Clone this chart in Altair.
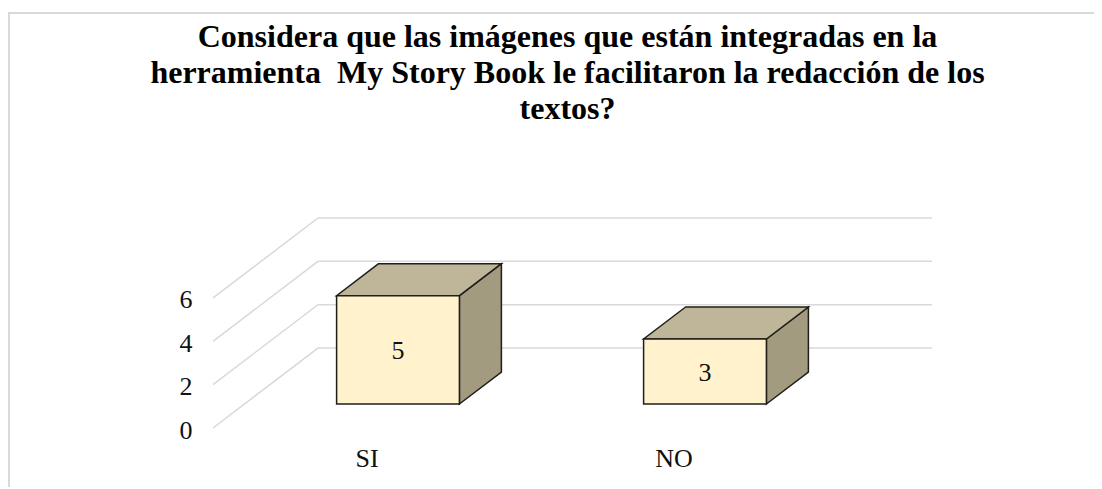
import altair as alt
import pandas as pd

categories = ["SI", "NO"]
values = [5, 3]
y_ticks = [0, 2, 4, 6]
title_lines = [
    "Considera que las imágenes que están integradas en la",
    "herramienta \u00a0My Story Book le facilitaron la redacción de los",
    "textos?",
]

# oblique projection of the 3-D chart: one unit of depth shifts this much on each axis
DEPTH_X = 0.342
DEPTH_Y = 3.69
BAR_W = 0.4
DEPTH_NEAR, DEPTH_FAR = 0.3, 0.7
X_MAX = 2 + DEPTH_X
Y_MAX = 6 + DEPTH_Y

def px(u, d):
    return u + d * DEPTH_X

def py(v, d):
    return v + d * DEPTH_Y

x_scale = alt.Scale(domain=[0, X_MAX], nice=False, zero=False)
y_scale = alt.Scale(domain=[0, Y_MAX], nice=False, zero=False)

grid_rows = []
for t in y_ticks:
    for u, d in [(0, 0), (0, 1), (2, 1)]:
        grid_rows.append({"tick": t, "x": px(u, d), "y": py(t, d)})

front, top, side, labels = [], [], [], []
for i, (c, v) in enumerate(zip(categories, values)):
    l = i + 0.5 - BAR_W / 2
    r = i + 0.5 + BAR_W / 2
    n, f = DEPTH_NEAR, DEPTH_FAR
    front.append({"cat": c, "x": px(l, n), "x2": px(r, n), "y": py(0, n), "y2": py(v, n)})
    top.append({"cat": c, "y": py(v, n), "x": px(l, n), "x2": px(r, n)})
    top.append({"cat": c, "y": py(v, f), "x": px(l, f), "x2": px(r, f)})
    side.append({"cat": c, "x": px(r, n), "y": py(0, n), "y2": py(v, n)})
    side.append({"cat": c, "x": px(r, f), "y": py(0, f), "y2": py(v, f)})
    labels.append({"x": px(i + 0.5, n), "y": py(v / 2, n), "v": v})

X = lambda f="x": alt.X(f"{f}:Q", scale=x_scale, title=None)
Y = lambda f="y": alt.Y(f"{f}:Q", scale=y_scale, title=None)
FONT = "Liberation Serif"
EDGE = "#1f1f1a"
LABEL_SIZE = 26

axis_x = alt.Axis(
    values=[0.5, 1.5],
    labelExpr="datum.value < 1 ? '%s' : '%s'" % tuple(categories),
    ticks=False, domain=False, grid=False,
    labelFont=FONT, labelFontSize=LABEL_SIZE, labelColor="#111111", labelPadding=17,
)
axis_y = alt.Axis(
    values=y_ticks, format="d",
    ticks=False, domain=False, grid=False,
    labelFont=FONT, labelFontSize=LABEL_SIZE, labelColor="#111111", labelPadding=21,
    labelOffset=2,
)

axes = alt.Chart(pd.DataFrame(grid_rows)).mark_line(color="#d9d9d9", strokeWidth=1.5).encode(
    x=alt.X("x:Q", scale=x_scale, title=None, axis=axis_x),
    y=alt.Y("y:Q", scale=y_scale, title=None, axis=axis_y),
    detail="tick:N", order=alt.Order("x:Q"),
)

side_m = alt.Chart(pd.DataFrame(side)).mark_area(
    orient="vertical", fill="#A39B80", stroke=EDGE, strokeWidth=1.5, opacity=1
).encode(x=X(), y=Y(), y2="y2:Q", detail="cat:N")

top_m = alt.Chart(pd.DataFrame(top)).mark_area(
    orient="horizontal", fill="#BFB699", stroke=EDGE, strokeWidth=1.5, opacity=1
).encode(y=Y(), x=X(), x2="x2:Q", detail="cat:N")

front_m = alt.Chart(pd.DataFrame(front)).mark_rect(
    fill="#FFF2CC", stroke=EDGE, strokeWidth=1.5
).encode(x=X(), x2="x2:Q", y=Y(), y2="y2:Q")

text_m = alt.Chart(pd.DataFrame(labels)).mark_text(
    font=FONT, fontSize=LABEL_SIZE, color="#111111", dy=1
).encode(x=X(), y=Y(), text="v:Q")

frame_df = pd.DataFrame({"k": [0]})
frame_top = alt.Chart(frame_df).mark_rule(color="#d9d9d9", strokeWidth=2).encode(
    x=alt.value(-205), x2=alt.value(881), y=alt.value(-205))
frame_left = alt.Chart(frame_df).mark_rule(color="#d9d9d9", strokeWidth=2).encode(
    x=alt.value(-204), y=alt.value(-205), y2=alt.value(269))

chart = alt.layer(frame_top, frame_left, axes, side_m, top_m, front_m, text_m).properties(
    width=719,
    height=210,
    title=alt.TitleParams(
        text=title_lines, font=FONT, fontSize=32, fontWeight="bold", color="#000000",
        lineHeight=36, anchor="middle", dx=-5, dy=143, baseline="alphabetic",
    ),
    padding={"left": 205, "top": 210, "right": 162, "bottom": 59},
    autosize=alt.AutoSizeParams(type="none"),
).configure_view(stroke=None)

chart.save("out.html", embed_options={"renderer": "svg", "actions": False})
